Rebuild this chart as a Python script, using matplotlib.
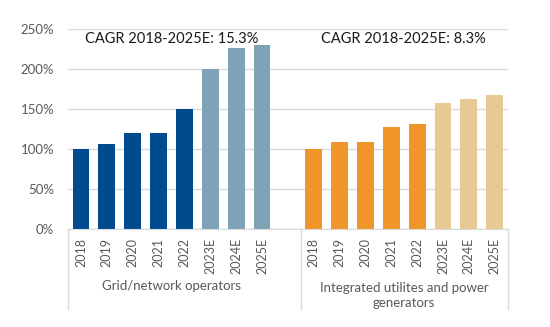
import matplotlib
matplotlib.use("Agg")
import matplotlib.pyplot as plt
import matplotlib.transforms as mtransforms

plt.rcParams['font.family'] = ['Lato', 'DejaVu Sans']

years = ["2018", "2019", "2020", "2021", "2022", "2023E", "2024E", "2025E"]
grid_values = [100, 107, 120, 120, 151, 201, 227, 230]
util_values = [100, 109, 109, 128, 132, 158, 163, 168]
group_labels = ["Grid/network operators", "Integrated utilites and power\ngenerators"]
cagr_labels = ["CAGR 2018-2025E: 15.3%", "CAGR 2018-2025E: 8.3%"]
yticks = [0, 50, 100, 150, 200, 250]

grid_actual, grid_est = "#004B8D", "#7FA3B6"
util_actual, util_est = "#F0952A", "#E6C993"

fig = plt.figure(figsize=(5.5, 3.27), dpi=100)
ax = fig.add_axes([68/550, 1-229.3/327, 439.7/550, 200/327])

n = len(years)
x_left = list(range(n))
x_right = [i + n + 1 for i in range(n)]
col_left = [grid_actual if not y.endswith("E") else grid_est for y in years]
col_right = [util_actual if not y.endswith("E") else util_est for y in years]

ax.bar(x_left, grid_values, width=0.65, color=col_left, zorder=3)
ax.bar(x_right, util_values, width=0.65, color=col_right, zorder=3)

ax.set_xlim(-0.5, 2*n + 0.5)
ax.set_ylim(0, 250)
ax.set_yticks(yticks)
ax.set_yticklabels([f"{v}%" for v in yticks], color="#595959", fontsize=9.5)
ax.yaxis.grid(True, color="#D9D9D9", linewidth=1, zorder=0)
ax.tick_params(axis='y', length=0, pad=10)
ax.tick_params(axis='x', length=0, pad=6)
ax.set_xticks(x_left + x_right)
ax.set_xticklabels(years + years, rotation=90, color="#595959", fontsize=9)
for s in ["top", "right", "left"]:
    ax.spines[s].set_visible(False)
ax.spines["bottom"].set_color("#D9D9D9")
ax.spines["bottom"].set_zorder(4)

trans = mtransforms.blended_transform_factory(ax.transData, ax.transAxes)
for xs in [-0.5, n + 0.5, 2*n + 0.5]:
    ax.plot([xs, xs], [0, -0.40], transform=trans, color="#D9D9D9", lw=1, clip_on=False)

ax.text((n - 1)/2, -0.285, group_labels[0], transform=trans, ha="center", va="center",
        color="#595959", fontsize=9.5)
ax.text(n + 1 + (n - 1)/2, -0.33, group_labels[1], transform=trans, ha="center", va="center",
        color="#595959", fontsize=9.5, linespacing=1.3)

ax.text(3.5, 238, cagr_labels[0], ha="center", va="center", fontsize=10.5, color="#1a1a1a")
ax.text(12.45, 238, cagr_labels[1], ha="center", va="center", fontsize=10.5, color="#1a1a1a")

fig.savefig("out.png", dpi=100)
